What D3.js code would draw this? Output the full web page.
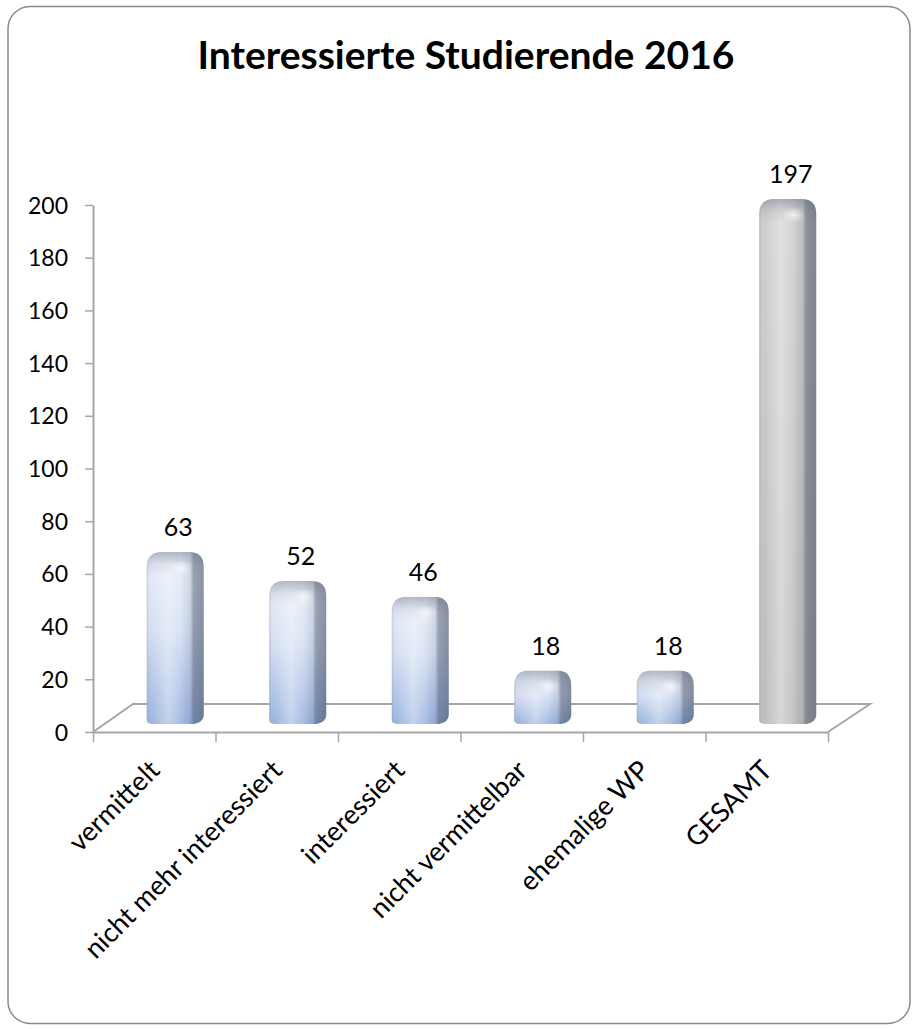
<!DOCTYPE html>
<html>
<head>
<meta charset="utf-8">
<script src="https://cdn.jsdelivr.net/npm/d3@7/dist/d3.min.js"></script>
<style>
  html, body { margin: 0; padding: 0; background: #ffffff; }
  svg { display: block; }
  text { font-family: Lato, "Open Sans", "DejaVu Sans", sans-serif; fill: #000; }
</style>
</head>
<body>
<svg id="chart" width="914" height="1029"></svg>
<script>
// ---- data ----
const title = "Interessierte Studierende 2016";
const categories = ["vermittelt", "nicht mehr interessiert", "interessiert", "nicht vermittelbar", "ehemalige WP", "GESAMT"];
const values = [63, 52, 46, 18, 18, 197];
const yTicks = [0, 20, 40, 60, 80, 100, 120, 140, 160, 180, 200];
const totalCategory = "GESAMT";

// ---- layout ----
const svg = d3.select("#chart");
const defs = svg.append("defs");

// card
svg.append("rect")
  .attr("x", 8).attr("y", 6.5).attr("width", 902).attr("height", 1017)
  .attr("rx", 22).attr("ry", 22)
  .attr("fill", "#fff").attr("stroke", "#8a8a8a").attr("stroke-width", 1.5);

// title
svg.append("text")
  .attr("x", 466).attr("y", 69)
  .attr("text-anchor", "middle")
  .attr("font-size", 39).attr("font-weight", 700)
  .text(title);

// scales
const plotLeft = 93, plotRight = 828, floorY = 732;
const x = d3.scaleBand().domain(categories).range([plotLeft, plotRight]).paddingInner(0).paddingOuter(0);
const xIdx = d3.scaleLinear().domain([0, categories.length]).range([plotLeft, plotRight]);
const y = d3.scaleLinear().domain([0, 200]).range([floorY, 205]);
const depthX = 40, depthY = -28;

// gradients
function linGrad(id, vertical, stops) {
  const g = defs.append("linearGradient").attr("id", id)
    .attr("x1", 0).attr("y1", 0).attr("x2", vertical ? 0 : 1).attr("y2", vertical ? 1 : 0);
  stops.forEach(s => g.append("stop").attr("offset", s[0]).attr("stop-color", s[1]).attr("stop-opacity", s[2] == null ? 1 : s[2]));
}
linGrad("blueV", true, [[0, "#e8eef9"], [0.45, "#d4def1"], [1, "#9ab3df"]]);
linGrad("greyV", true, [[0, "#cecece"], [1, "#bcbcbc"]]);
linGrad("shadeH", false, [
  [0, "#505a6e", 0.2], [0.07, "#ffffff", 0.0], [0.38, "#ffffff", 0.4], [0.6, "#ffffff", 0.12],
  [0.76, "#3c465a", 0.1], [0.82, "#323c50", 0.4], [1, "#323c50", 0.5]
]);
linGrad("capV", true, [[0, "#5a6478", 0.42], [0.5, "#5a6478", 0.12], [1, "#5a6478", 0]]);
const rg = defs.append("radialGradient").attr("id", "hl");
rg.append("stop").attr("offset", 0).attr("stop-color", "#fff").attr("stop-opacity", 0.7);
rg.append("stop").attr("offset", 1).attr("stop-color", "#fff").attr("stop-opacity", 0);

// floor (3D base)
const fl = svg.append("g").attr("fill", "none").attr("stroke", "#a6a6a6").attr("stroke-width", 2);
fl.append("path").attr("d", d3.line()([
  [plotLeft, floorY], [plotLeft + depthX, floorY + depthY], [plotRight + depthX + 2, floorY + depthY], [plotRight, floorY]
]));

// x axis (front edge with ticks at category boundaries)
const xAxis = d3.axisBottom(xIdx).tickValues(d3.range(categories.length + 1)).tickFormat("").tickSize(10).tickSizeOuter(0);
const gx = svg.append("g").attr("transform", `translate(0,${floorY})`).call(xAxis);
gx.select(".domain").attr("stroke", "#a6a6a6").attr("stroke-width", 2);
gx.selectAll(".tick line").attr("stroke", "#a6a6a6").attr("stroke-width", 1.5);

// y axis
const yAxis = d3.axisLeft(y).tickValues(yTicks).tickSize(8).tickPadding(17).tickSizeOuter(0);
const gy = svg.append("g").attr("transform", `translate(${plotLeft},0)`).call(yAxis);
gy.select(".domain").attr("stroke", "#a6a6a6").attr("stroke-width", 2);
gy.selectAll(".tick line").attr("stroke", "#a6a6a6").attr("stroke-width", 1.5);
gy.selectAll(".tick text").attr("font-size", 23).attr("font-family", "Lato, sans-serif").attr("fill", "#000").attr("dy", "0.35em");

// bars
const bw = x.bandwidth() * 0.465;
const r = 15;
function barPath(x0, x1, yTop, yBot) {
  return `M${x0},${yTop + r} Q${x0},${yTop} ${x0 + r},${yTop} L${x1 - r},${yTop} Q${x1},${yTop} ${x1},${yTop + r}` +
         ` L${x1},${yBot - 9} Q${x1},${yBot - 2} ${x1 - 10},${yBot} L${x0 + 6},${yBot} Q${x0},${yBot} ${x0},${yBot - 4} Z`;
}
const bars = svg.append("g");
categories.forEach((c, i) => {
  const v = values[i];
  const x0 = x(c) + (x.bandwidth() - bw) / 2 + depthX / 2 + 1;
  const x1 = x0 + bw;
  const yTop = y(v) + depthY / 2;
  const yBot = y(0) + depthY / 2 + 6;
  const d = barPath(x0, x1, yTop, yBot);
  const id = "clip" + i;
  defs.append("clipPath").attr("id", id).append("path").attr("d", d);
  const g = bars.append("g");
  g.append("path").attr("d", d).attr("fill", c === totalCategory ? "url(#greyV)" : "url(#blueV)");
  g.append("path").attr("d", d).attr("fill", "url(#shadeH)");
  g.append("rect").attr("clip-path", `url(#${id})`)
    .attr("x", x0).attr("y", yTop).attr("width", bw).attr("height", 24).attr("fill", "url(#capV)");
  g.append("ellipse").attr("clip-path", `url(#${id})`)
    .attr("cx", x0 + bw * 0.6).attr("cy", yTop + 16).attr("rx", 12).attr("ry", 8)
    .attr("fill", "url(#hl)");
  // value label
  svg.append("text")
    .attr("x", (x0 + x1) / 2 + 3).attr("y", yTop - 16)
    .attr("text-anchor", "middle").attr("font-size", 25)
    .text(v);
});

// category labels
svg.append("g").selectAll("text").data(categories).join("text")
  .attr("text-anchor", "end")
  .attr("font-size", 27)
  .attr("transform", c => `translate(${x(c) + x.bandwidth() / 2 + 7},${772}) rotate(-45)`)
  .text(c => c);
</script>
</body>
</html>
